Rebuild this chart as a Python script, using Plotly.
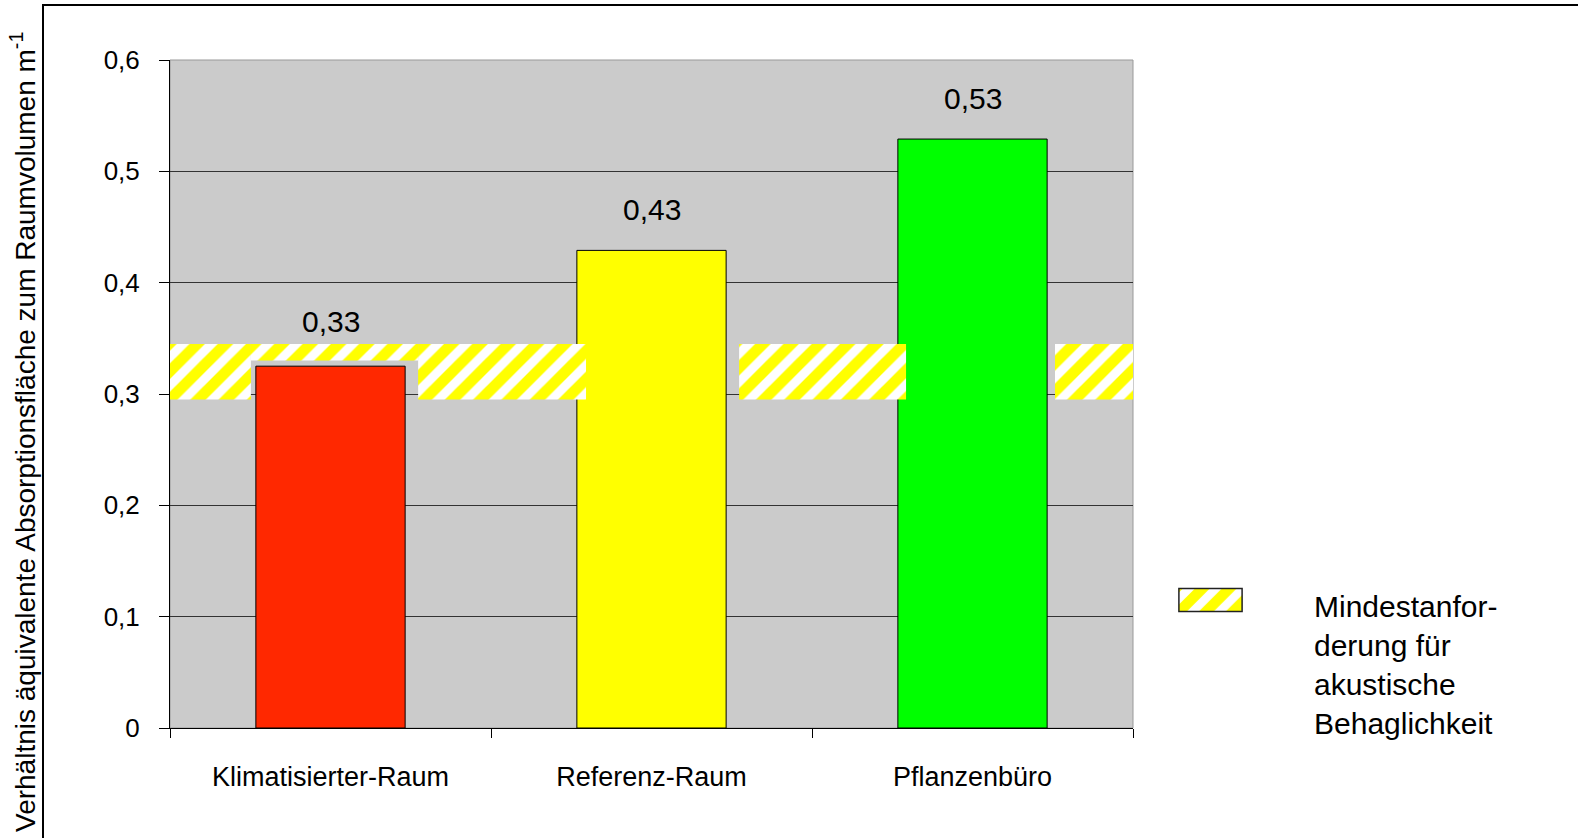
import plotly.graph_objects as go

# ---------------- data ----------------
categories = ["Klimatisierter-Raum", "Referenz-Raum", "Pflanzenbüro"]
values = [0.325, 0.429, 0.529]
value_labels = ["0,33", "0,43", "0,53"]
bar_colors = ["#FF2800", "#FFFF00", "#00FF00"]
y_ticks = [0, 0.1, 0.2, 0.3, 0.4, 0.5, 0.6]
y_tick_labels = ["0", "0,1", "0,2", "0,3", "0,4", "0,5", "0,6"]
band_low = 0.295
band_high = 0.345
band_name = "Mindestanfor-<br>derung für<br>akustische<br>Behaglichkeit"
y_title = "Verhältnis äquivalente Absorptionsfläche zum Raumvolumen m<sup>-1</sup>"

# ---------------- layout geometry ----------------
W, H = 1578, 838
ML, MR, MT, MB = 170, 20, 60, 110
PW = W - ML - MR
PH = H - MT - MB
PLOT_RIGHT = 1133


def px_x(px):
    return (px - ML) / PW


def px_y(py):
    return (H - MB - py) / PH


main_domain = [0, px_x(PLOT_RIGHT)]
FONT = "Liberation Sans, Arial, sans-serif"

# band pieces in category units (x2 linear axis matches category axis)
seg_x0 = [-0.5, 0.273, 1.273, 2.257, -0.248]
seg_x1 = [-0.248, 0.796, 1.793, 2.5, 0.273]
seg_lo = [band_low, band_low, band_low, band_low, round(values[0], 2)]
seg_hi = [band_high] * 5

pattern = dict(shape="/", fgcolor="#FFFF00", bgcolor="#FFFFFF", fgopacity=1,
               size=20, solidity=0.55)

fig = go.Figure()

# main bars
fig.add_trace(go.Bar(
    x=categories, y=values, width=0.465,
    marker=dict(color=bar_colors, line=dict(color="#000000", width=1)),
    xaxis="x", yaxis="y", showlegend=False, hoverinfo="skip",
))

# hatched minimum-requirement band
fig.add_trace(go.Bar(
    x=[(a + b) / 2 for a, b in zip(seg_x0, seg_x1)],
    width=[b - a for a, b in zip(seg_x0, seg_x1)],
    base=seg_lo,
    y=[h - l for l, h in zip(seg_lo, seg_hi)],
    marker=dict(color="#FFFFFF", pattern=pattern, line=dict(width=0)),
    xaxis="x2", yaxis="y", showlegend=False, hoverinfo="skip",
))

# legend swatch
fig.add_trace(go.Bar(
    x=[0], y=[1], base=[0], width=[1],
    marker=dict(color="#FFFFFF", pattern=dict(pattern, size=19),
                line=dict(color="#222222", width=1.5)),
    xaxis="x3", yaxis="y3", showlegend=False, hoverinfo="skip",
))

# value labels
for c, v, t in zip(categories, values, value_labels):
    fig.add_annotation(x=c, y=round(v, 2), xref="x", yref="y", text=t,
                       showarrow=False, yanchor="bottom", yshift=21,
                       font=dict(size=30, color="#000000", family=FONT))

# legend text
fig.add_annotation(x=px_x(1312), y=px_y(588), xref="paper", yref="paper",
                   text=band_name, showarrow=False, xanchor="left", yanchor="top",
                   align="left", font=dict(size=30, color="#000000", family=FONT))

# y axis title
fig.add_annotation(x=px_x(23), y=px_y(432), xref="paper", yref="paper",
                   text=y_title, showarrow=False, textangle=-90,
                   xanchor="center", yanchor="middle",
                   font=dict(size=28, color="#000000", family=FONT))

# plot background and outer frame
fig.add_shape(type="rect", xref="x domain", yref="y domain", x0=0, x1=1, y0=0, y1=1,
              fillcolor="#CBCBCB", line=dict(color="#999999", width=1), layer="below")
fig.add_shape(type="rect", xref="paper", yref="paper",
              x0=px_x(43), x1=px_x(W + 20), y0=px_y(H + 20), y1=px_y(5),
              line=dict(color="#000000", width=2), fillcolor="rgba(0,0,0,0)")

fig.update_layout(
    width=W, height=H,
    margin=dict(l=ML, r=MR, t=MT, b=MB),
    paper_bgcolor="#FFFFFF", plot_bgcolor="rgba(0,0,0,0)",
    font=dict(family=FONT, color="#000000"),
    barmode="overlay",
    xaxis=dict(domain=main_domain, type="category", range=[-0.5, 2.5],
               tickson="boundaries", ticks="outside", ticklen=9, tickcolor="#000000",
               showline=True, linecolor="#000000", linewidth=1, showgrid=False,
               tickfont=dict(size=27, family=FONT), ticklabelstandoff=25),
    xaxis2=dict(overlaying="x", anchor="y", range=[-0.5, 2.5], visible=False,
                showgrid=False, zeroline=False),
    yaxis=dict(range=[0, 0.6], tickvals=y_ticks, ticktext=y_tick_labels,
               ticks="outside", ticklen=10, tickcolor="#000000",
               showline=True, linecolor="#000000", linewidth=1,
               showgrid=True, gridcolor="#333333", gridwidth=1, zeroline=False,
               tickfont=dict(size=26, family=FONT), ticklabelstandoff=14),
    xaxis3=dict(domain=[px_x(1177), px_x(1244)], anchor="y3", range=[-0.53, 0.53],
                visible=False, showgrid=False, zeroline=False),
    yaxis3=dict(domain=[px_y(613), px_y(587)], anchor="x3", range=[-0.06, 1.06],
                visible=False, showgrid=False, zeroline=False),
)

fig.write_html(
    "out.html",
    config={"displayModeBar": False},
    post_script="document.body.style.margin='0';document.body.style.overflow='hidden';",
)
